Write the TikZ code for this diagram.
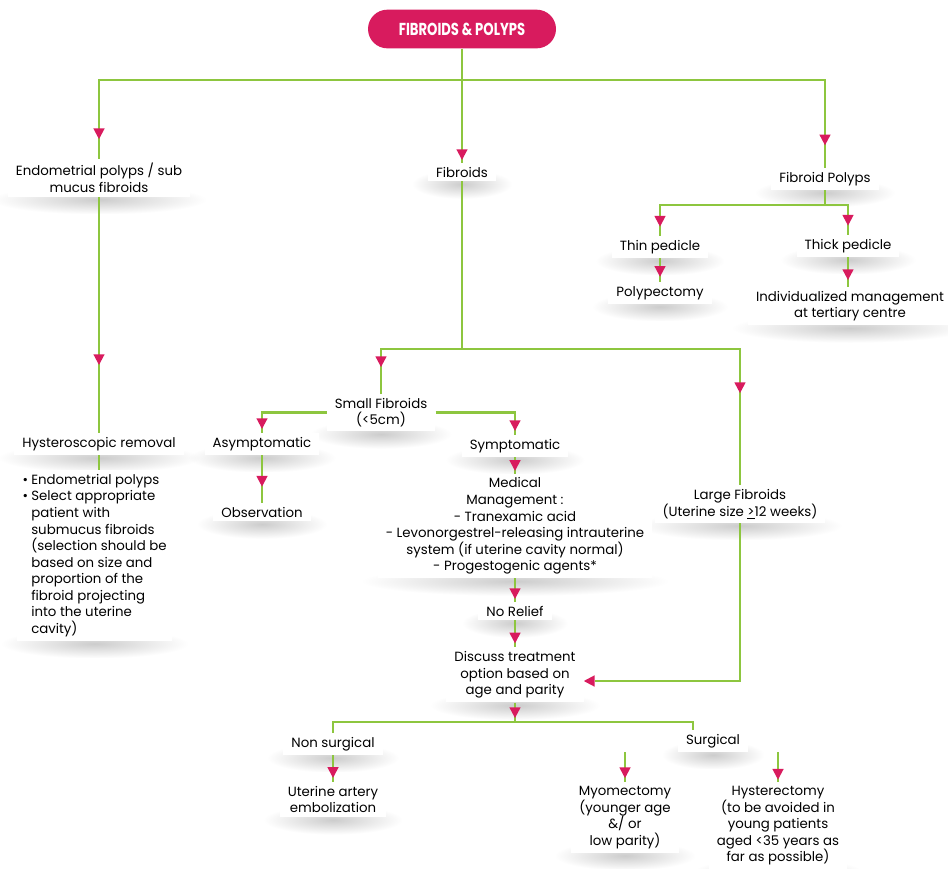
\documentclass[tikz,border=0pt]{standalone}
\usepackage{fontspec}
\setmainfont{Poppins}
\newfontfamily\titlefont{Poppins}[FakeStretch=0.76]
\usetikzlibrary{arrows.meta,decorations.markings,fadings,calc}
\definecolor{crim}{HTML}{D81B5E}
\definecolor{grn}{HTML}{8DC63F}
\newcommand\mybul{\makebox[6.5pt][l]{\textbullet}}
\newcommand\myind{\hspace*{6.5pt}}
\pgfdeclarelayer{back}
\pgfdeclarelayer{mid}
\pgfsetlayers{back,mid,main}
\tikzfading[name=shfade, inner color=transparent!0, outer color=transparent!100]
\tikzset{
  box/.style={fill=white, align=center, font=\fontsize{10}{12.4}\selectfont,
    inner xsep=6pt, inner ysep=3pt},
  titlebox/.style={fill=crim, text=white, rounded corners=14.5pt, minimum width=141pt,
    minimum height=29pt, font=\titlefont\bfseries\fontsize{13}{14}\selectfont},
  link/.style={draw=grn, line width=1.65pt},
  arr/.style={postaction={decorate, decoration={markings,
    mark=at position -#1 with {\arrow{Triangle[width=8.5pt,length=8pt,color=crim,line width=0pt]}}}}},
  endarr/.style={-{Triangle[width=8.5pt,length=8pt,color=crim,line width=0pt]}},
  softshadow/.style={fill=black, fill opacity=0.2, path fading=shfade},
}
\begin{document}
\begin{tikzpicture}[x=0.75pt,y=-0.75pt]
\useasboundingbox (0,0) rectangle (948,868);
% nodes
\node[titlebox] (title) at (462,29) {FIBROIDS \& POLYPS};
\node[box] (endo) at (99,178) {Endometrial polyps / sub\\mucus fibroids};
\node[box] (fib) at (462,172) {Fibroids};
\node[box] (fpol) at (825,179) {Fibroid Polyps};
\node[box] (thin) at (660,247) {Thin pedicle};
\node[box] (polyp) at (660,293) {Polypectomy};
\node[box] (thick) at (848,246) {Thick pedicle};
\node[box] (indiv) at (850,306) {Individualized management\\at tertiary centre};
\node[box] (hyst) at (99,444) {Hysteroscopic removal};
\node[box, align=left, anchor=north west, inner xsep=4pt] (list) at (17,470)
  {\mybul Endometrial polyps\\\mybul Select appropriate\\\myind patient with\\\myind submucus fibroids\\\myind (selection should be\\\myind based on size and\\\myind proportion of the\\\myind fibroid projecting\\\myind into the uterine\\\myind cavity)};
\node[box] (small) at (381,412.5) {Small Fibroids\\(<5cm)};
\node[box] (asym) at (262,444) {Asymptomatic};
\node[box] (obs) at (262,512) {Observation};
\node[box] (sym) at (515,446) {Symptomatic};
\node[box] (med) at (515,526) {Medical\\Management :\\- Tranexamic acid\\- Levonorgestrel-releasing intrauterine\\system (if uterine cavity normal)\\- Progestogenic agents*};
\node[box] (norel) at (515,611) {No Relief};
\node[box] (disc) at (515,675) {Discuss treatment\\option based on\\age and parity};
\node[box] (large) at (740,504) {Large Fibroids\\(Uterine size \underline{>}12 weeks)};
\node[box] (nons) at (333,744) {Non surgical};
\node[box] (uae) at (333,799.5) {Uterine artery\\embolization};
\node[box] (surg) at (713,741) {Surgical};
\node[box] (myo) at (625,817.5) {Myomectomy\\(younger age\\\&/ or\\low parity)};
\node[box] (hyster) at (778,826) {Hysterectomy\\(to be avoided in\\young patients\\aged <35 years as\\far as possible)};
% background and soft shadows
\begin{pgfonlayer}{back}
\fill[white] (0,0) rectangle (948,868);
\foreach \nd in {endo,fib,fpol,thin,polyp,thick,indiv,hyst,list,small,asym,obs,sym,med,norel,disc,large,nons,uae,surg,myo,hyster}{
  \path let \p1=(\nd.south west), \p2=(\nd.south east), \n1={(\x2-\x1)/2+12pt}, \n2={(\x1+\x2)/2}
    in [softshadow] (\n2-\n1, \y1+9pt) rectangle (\n2+\n1, \y1-13pt);
}
\end{pgfonlayer}
% connectors
\begin{pgfonlayer}{mid}
\coordinate (s1) at (462,80);
\coordinate (s2) at (825,205);
\coordinate (s3) at (462,349);
\coordinate (s4) at (515,722);
\draw[link, arr=2pt] (title) -- (fib);
\draw[link, arr=15pt] (s1) -| (endo);
\draw[link, arr=17pt] (s1) -| (fpol);
\draw[link] (fpol) -- (s2);
\draw[link, arr=7pt] (s2) -| (thin);
\draw[link, arr=7pt] (s2) -| (thick);
\draw[link, arr=4pt] (thin) -- (polyp);
\draw[link, arr=5pt] (thick) -- (thick |- indiv.north);
\draw[link] (fib) -- (s3);
\draw[link, arr=20pt] (s3) -| (small);
\draw[link, arr=69pt] (s3) -| (large);
\draw[link, arr=51pt] (endo) -- (hyst);
\draw[link] (hyst) -- (hyst |- list.north);
\draw[link, arr=3pt] (small.west) -| (asym);
\draw[link, arr=3pt] (small.east) -| (sym);
\draw[link, arr=12pt] (asym) -- (obs);
\draw[link, arr=2pt] (sym) -- (med);
\draw[link, arr=2pt] (med) -- (norel);
\draw[link, arr=3pt] (norel) -- (disc);
\draw[link, endarr] (large) |- ([yshift=-4.5pt]disc.east);
\draw[link, arr=3pt] (disc) -- (s4);
\draw[link] (s4) -| (nons);
\draw[link] (s4) -| ([xshift=-15pt]surg.north);
\draw[link, arr=3pt] (nons) -- (uae);
\draw[link, arr=3pt] (surg.south -| myo.north) -- (myo);
\draw[link, arr=2pt] (surg.south -| hyster.north) -- (hyster);
\end{pgfonlayer}
\end{tikzpicture}
\end{document}
